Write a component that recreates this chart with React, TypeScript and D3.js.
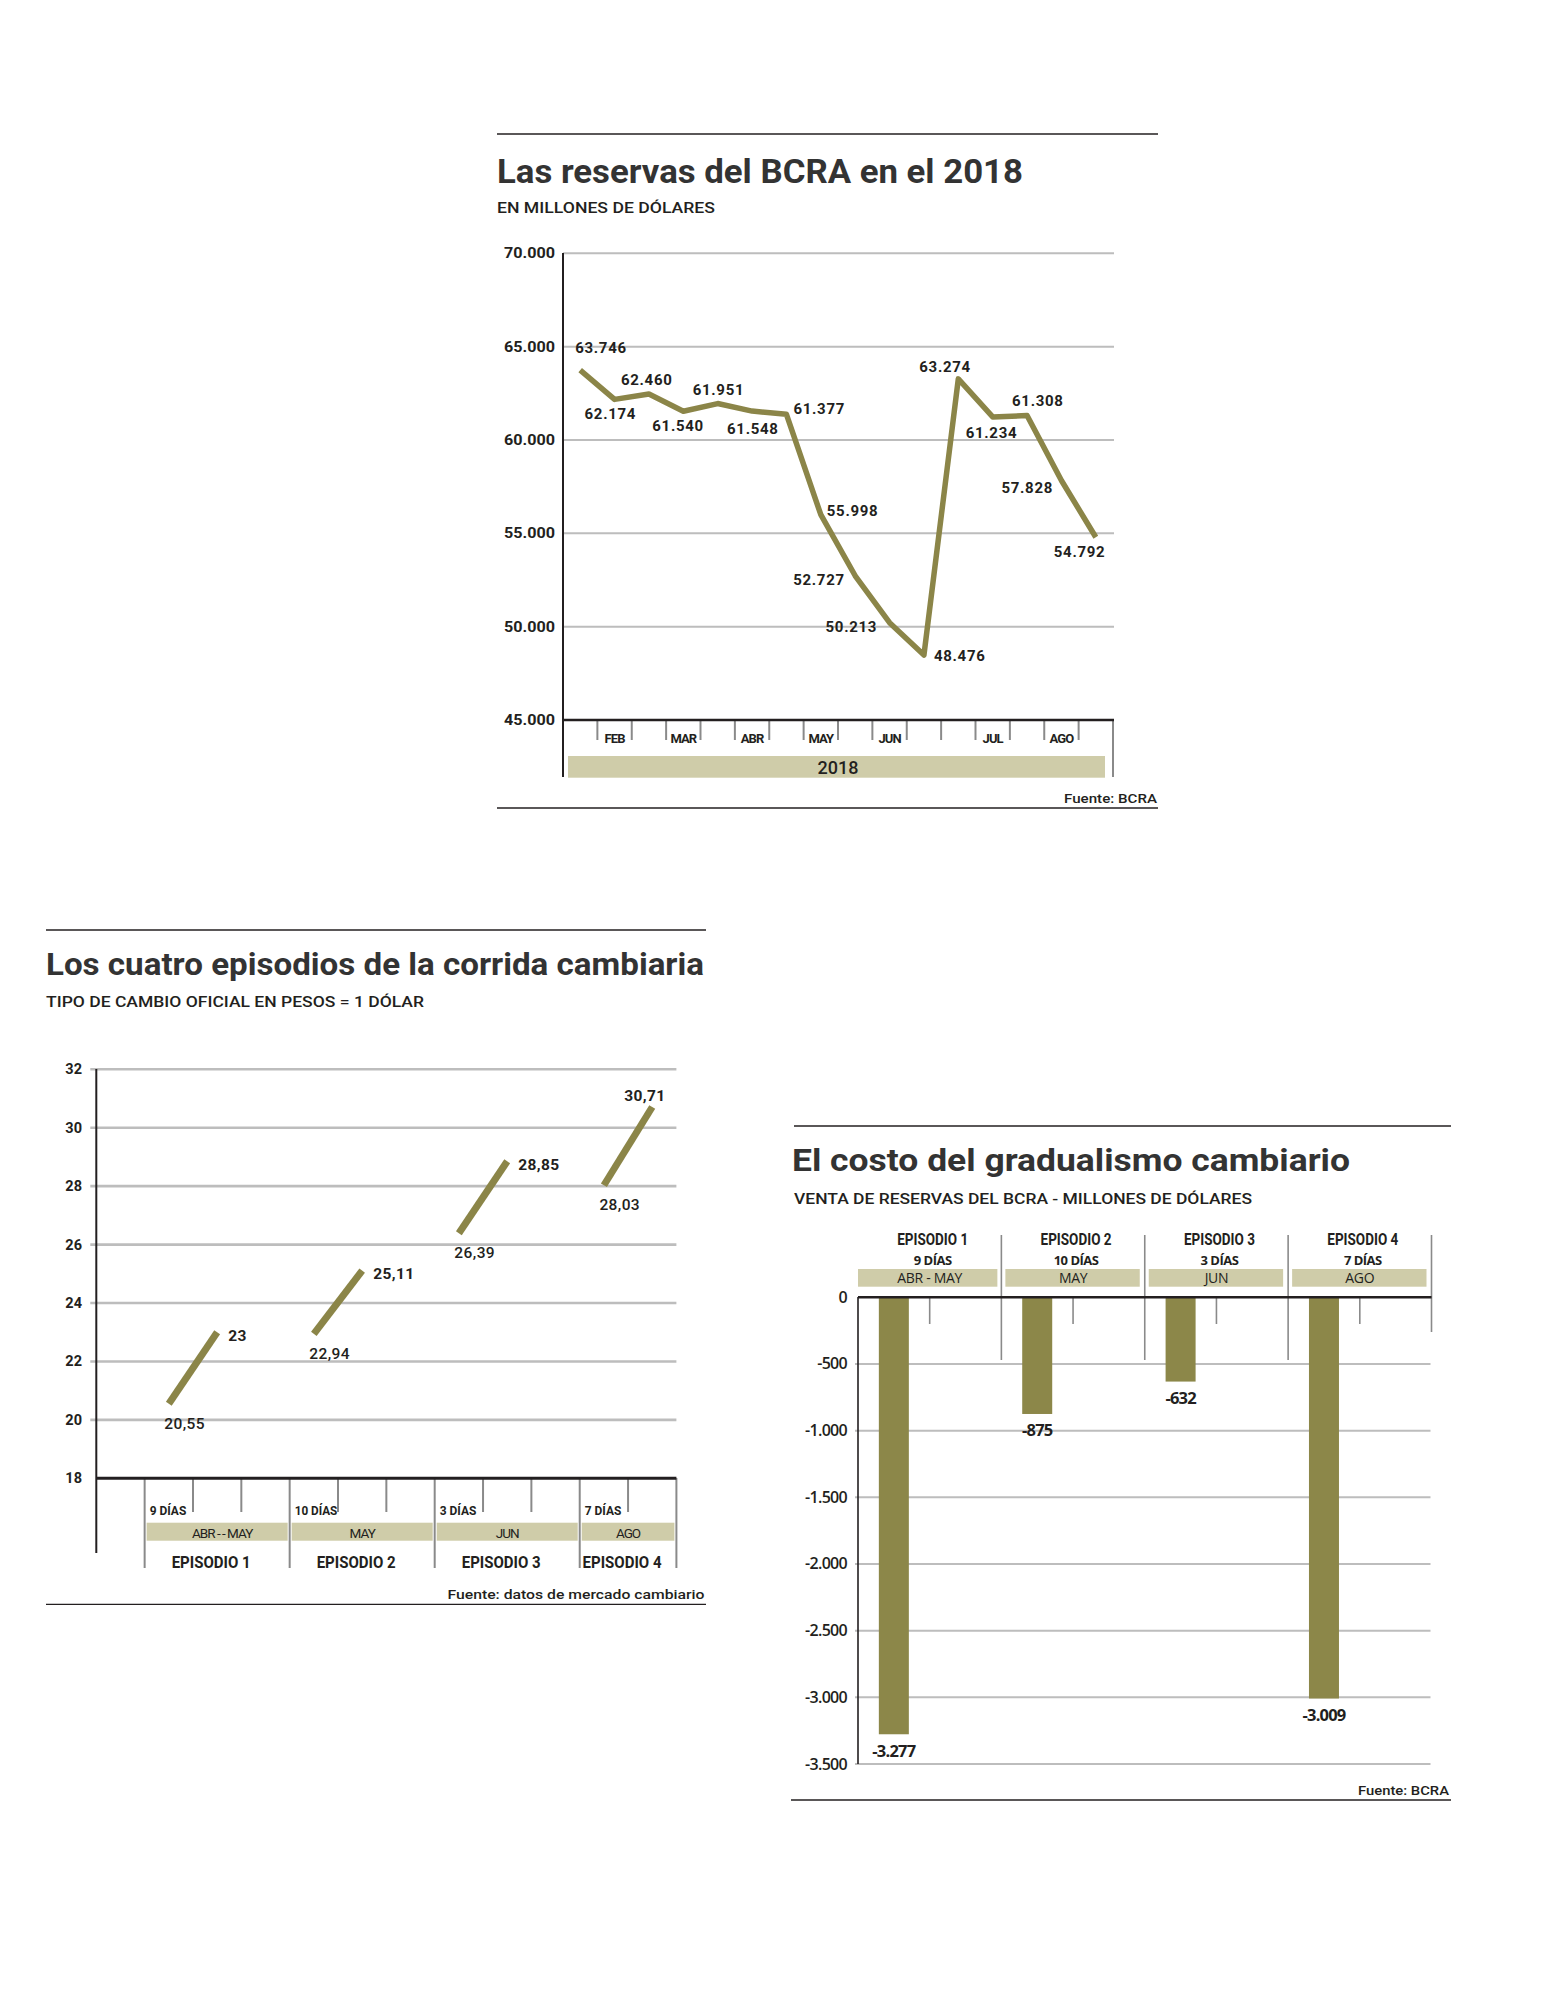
import React from "react";
import * as d3 from "d3";

// ---------- Chart 1: Las reservas del BCRA en el 2018 ----------
const reservesCategories = ["", "FEB", "", "MAR", "", "ABR", "", "MAY", "", "JUN", "", "", "JUL", "", "AGO", ""];
const reservesValues = [63746, 62174, 62460, 61540, 61951, 61548, 61377, 55998, 52727, 50213, 48476, 63274, 61234, 61308, 57828, 54792];
const reservesTicks = [45000, 50000, 55000, 60000, 65000, 70000];
const reservesYear = "2018";
// label placement (layout only): [dx from point to text start, dy baseline from point]
const reservesLabelOffsets: [number, number][] = [
  [-5, -17], [-30, 20], [-28, -9], [-31, 20], [-25, -9], [-25, 23], [7, 0], [6, 1],
  [-62, 9], [-64, 9], [10, 6], [-39, -7], [-27, 21], [-15, -10], [-60, 12], [-42, 20],
];

// ---------- Chart 2: Los cuatro episodios ----------
const episodeNames = ["EPISODIO 1", "EPISODIO 2", "EPISODIO 3", "EPISODIO 4"];
const episodeDays = ["9 DÍAS", "10 DÍAS", "3 DÍAS", "7 DÍAS"];
const episodeMonthsRate = ["ABR - - MAY", "MAY", "JUN", "AGO"];
const rateStart = [20.55, 22.94, 26.39, 28.03];
const rateEnd = [23, 25.11, 28.85, 30.71];
const rateTicks = [18, 20, 22, 24, 26, 28, 30, 32];

// ---------- Chart 3: El costo del gradualismo cambiario ----------
const episodeMonthsSales = ["ABR - MAY", "MAY", "JUN", "AGO"];
const salesValues = [-3277, -875, -632, -3009];
const salesTicks = [0, -500, -1000, -1500, -2000, -2500, -3000, -3500];

const locale = d3.formatLocale({ decimal: ",", thousands: ".", grouping: [3], currency: ["$", ""], minus: "-" });
const fmtInt = locale.format(",d");
const fmtRate = (v: number) => (Number.isInteger(v) ? locale.format("d")(v) : locale.format(".2f")(v));

const INK = "#231f20";
const TITLE = "#333333";
const OLIVE = "#8b8548";
const BAR = "#8c8749";
const BEIGE = "#cfcca9";
const GRID = "#bdbdbd";
const TICK = "#8a8a8a";
const SANS = "Roboto, 'Noto Sans', Arial, sans-serif";
const ALT = "'Open Sans', 'Noto Sans', sans-serif";

type TP = {
  x: number; y: number; size: number; weight?: number | string; anchor?: "start" | "middle" | "end";
  fill?: string; family?: string; len?: number; ls?: number; children: React.ReactNode;
};
function T({ x, y, size, weight = 400, anchor = "start", fill = INK, family = SANS, len, ls, children }: TP) {
  return (
    <text
      x={x}
      y={y}
      fontSize={size}
      fontWeight={weight}
      textAnchor={anchor}
      fill={fill}
      fontFamily={family}
      letterSpacing={ls}
      textLength={len}
      lengthAdjust={len ? "spacingAndGlyphs" : undefined}
    >
      {children}
    </text>
  );
}

function ReservesChart() {
  const x = d3.scaleBand<number>().domain(d3.range(reservesValues.length)).range([563, 1113]);
  const y = d3.scaleLinear().domain([45000, 70000]).range([720, 253.3]);
  const bw = x.bandwidth();
  const cx = (i: number) => (x(i) as number) + bw / 2;
  const line = d3.line<number>().x((_, i) => cx(i)).y((v) => y(v));
  const bounds = d3.range(1, reservesValues.length).map((i) => x(i) as number);
  const [x0, x1] = x.range();
  return (
    <g>
      <line x1={497} x2={1158} y1={134} y2={134} stroke={INK} strokeWidth={1.3} />
      <T x={497} y={183} size={33} weight={700} fill={TITLE} len={526}>Las reservas del BCRA en el 2018</T>
      <T x={497} y={213} size={14} weight={500} len={218}>EN MILLONES DE DÓLARES</T>
      {reservesTicks.filter((t) => t !== 45000).map((t) => (
        <line key={t} x1={x0} x2={x1 + 1} y1={y(t)} y2={y(t)} stroke={GRID} strokeWidth={2} />
      ))}
      {reservesTicks.map((t) => (
        <T key={t} x={555} y={y(t) + 5} size={14.5} weight={700} anchor="end" len={51}>{fmtInt(t)}</T>
      ))}
      {bounds.map((b, i) => (
        <line key={i} x1={b} x2={b} y1={720} y2={740} stroke={TICK} strokeWidth={2} />
      ))}
      <line x1={x1} x2={x1} y1={720} y2={777} stroke={TICK} strokeWidth={2} />
      <line x1={x0} x2={x0} y1={253} y2={777} stroke={INK} strokeWidth={2} />
      <line x1={x0} x2={x1 + 1} y1={720} y2={720} stroke={INK} strokeWidth={2.5} />
      <rect x={x0 + 5} y={756} width={x1 - x0 - 13} height={21.7} fill={BEIGE} />
      <T x={(x0 + x1) / 2} y={774} size={18} weight={500} anchor="middle">{reservesYear}</T>
      {reservesCategories.map((c, i) =>
        c ? (
          <T key={i} x={cx(i)} y={742.7} size={13} weight={700} anchor="middle" ls={-0.9}>{c}</T>
        ) : null
      )}
      <path d={line(reservesValues) || ""} fill="none" stroke={OLIVE} strokeWidth={5.5} strokeLinejoin="round" />
      {reservesValues.map((v, i) => (
        <T key={i} x={cx(i) + reservesLabelOffsets[i][0]} y={y(v) + reservesLabelOffsets[i][1]} size={15} weight={700} ls={0.7}>
          {fmtInt(v)}
        </T>
      ))}
      <T x={1157} y={802.7} size={13} weight={500} anchor="end" len={93}>Fuente: BCRA</T>
      <line x1={497} x2={1158} y1={808} y2={808} stroke={INK} strokeWidth={1.3} />
    </g>
  );
}

function RateChart() {
  const x = d3.scaleBand<number>().domain(d3.range(12)).range([96.3, 676.4]);
  const y = d3.scaleLinear().domain([18, 32]).range([1478.3, 1069.3]);
  const bw = x.bandwidth();
  const cx = (i: number) => (x(i) as number) + bw / 2;
  const [x0, x1] = x.range();
  const longB = [1, 4, 7, 10].map((i) => x(i) as number).concat([x1]);
  const shortB = [2, 3, 5, 6, 8, 9, 11].map((i) => x(i) as number);
  return (
    <g>
      <line x1={46} x2={706} y1={930} y2={930} stroke={INK} strokeWidth={1.3} />
      <T x={46} y={975} size={32} weight={700} fill={TITLE} len={658}>Los cuatro episodios de la corrida cambiaria</T>
      <T x={46} y={1007} size={14} weight={500} len={378}>TIPO DE CAMBIO OFICIAL EN PESOS = 1 DÓLAR</T>
      {rateTicks.filter((t) => t !== 18).map((t) => (
        <line key={t} x1={x0 - 6} x2={x1} y1={y(t)} y2={y(t)} stroke={GRID} strokeWidth={2.6} />
      ))}
      {rateTicks.map((t) => (
        <T key={t} x={82} y={y(t) + 5} size={14.5} weight={700} anchor="end">{t}</T>
      ))}
      {longB.map((b, i) => (
        <line key={i} x1={b} x2={b} y1={1478} y2={1568} stroke={TICK} strokeWidth={2} />
      ))}
      {shortB.map((b, i) => (
        <line key={i} x1={b} x2={b} y1={1478} y2={1512} stroke={TICK} strokeWidth={2} />
      ))}
      <line x1={x0} x2={x0} y1={1069} y2={1553} stroke={INK} strokeWidth={2} />
      <line x1={x0} x2={x1} y1={1478.3} y2={1478.3} stroke={INK} strokeWidth={3} />
      {episodeNames.map((name, i) => {
        const a = longB[i];
        const b = longB[i + 1];
        const s = 3 * i + 1;
        const e = 3 * i + 2;
        const last = i === episodeNames.length - 1;
        return (
          <g key={name}>
            <T x={a + 5} y={1515} size={13} weight={700} len={episodeDays[i].length * 6.1}>{episodeDays[i]}</T>
            <rect x={a + 2} y={1522.7} width={b - a - 4} height={18} fill={BEIGE} />
            <T x={(a + b) / 2 + (i === 0 ? 5 : 0)} y={1538} size={13.5} anchor="middle" ls={-1}>{episodeMonthsRate[i]}</T>
            <T x={(a + b) / 2 - 6} y={1568} size={16} weight={700} anchor="middle" len={79}>{name}</T>
            <line x1={cx(s)} x2={cx(e)} y1={y(rateStart[i])} y2={y(rateEnd[i])} stroke={OLIVE} strokeWidth={7} />
            <T x={cx(s) - 4.5} y={y(rateStart[i]) + 25} size={15.5} weight={500} ls={0.4}>{fmtRate(rateStart[i])}</T>
            <T x={cx(e) + (last ? -28 : 11)} y={y(rateEnd[i]) + (last ? -6 : 8.5)} size={15.5} weight={700} ls={0.4}>
              {fmtRate(rateEnd[i])}
            </T>
          </g>
        );
      })}
      <T x={704.5} y={1599.3} size={13} weight={500} anchor="end" len={257}>Fuente: datos de mercado cambiario</T>
      <line x1={46} x2={706} y1={1604.3} y2={1604.3} stroke={INK} strokeWidth={1.3} />
    </g>
  );
}

function SalesChart() {
  const x = d3.scaleBand<number>().domain(d3.range(salesValues.length)).range([858, 1431.5]);
  const y = d3.scaleLinear().domain([-3500, 0]).range([1764, 1297.3]);
  const bw = x.bandwidth();
  const [x0, x1] = x.range();
  const barW = 30;
  return (
    <g>
      <line x1={794} x2={1451} y1={1126} y2={1126} stroke={INK} strokeWidth={1.3} />
      <T x={792} y={1171} size={32} weight={700} fill={TITLE} len={558}>El costo del gradualismo cambiario</T>
      <T x={794} y={1204.3} size={14} weight={500} len={458}>VENTA DE RESERVAS DEL BCRA - MILLONES DE DÓLARES</T>
      {salesTicks.filter((t) => t !== 0).map((t) => (
        <line key={t} x1={x0 - 3} x2={x1 - 1} y1={y(t)} y2={y(t)} stroke={GRID} strokeWidth={2} />
      ))}
      {salesTicks.map((t) => (
        <T key={t} x={847} y={y(t) + 5.5} size={16} weight={600} anchor="end" family={ALT} ls={-0.7}>{fmtInt(t)}</T>
      ))}
      {[1, 2, 3].map((i) => (
        <line key={i} x1={x(i)} x2={x(i)} y1={1235} y2={1360} stroke={TICK} strokeWidth={1.6} />
      ))}
      <line x1={x1} x2={x1} y1={1235} y2={1332} stroke={TICK} strokeWidth={1.6} />
      {salesValues.map((_, i) => (
        <line key={i} x1={(x(i) as number) + bw / 2} x2={(x(i) as number) + bw / 2} y1={1297} y2={1324} stroke={TICK} strokeWidth={1.6} />
      ))}
      <line x1={x0} x2={x0} y1={1297} y2={1764} stroke={INK} strokeWidth={1.6} />
      {salesValues.map((v, i) => {
        const c = (x(i) as number) + bw / 4;
        return (
          <g key={i}>
            <rect x={c - barW / 2} y={y(0)} width={barW} height={y(v) - y(0)} fill={BAR} />
            <T x={c} y={y(v) + 22.5} size={16.5} weight={700} anchor="middle" family={ALT} ls={-0.8}>{fmtInt(v)}</T>
          </g>
        );
      })}
      <line x1={x0} x2={x1} y1={y(0)} y2={y(0)} stroke={INK} strokeWidth={2.5} />
      {episodeNames.map((name, i) => {
        const a = x(i) as number;
        return (
          <g key={name}>
            <T x={a + bw / 2 + 3} y={1245} size={16} weight={700} anchor="middle" len={71}>{name}</T>
            <T x={a + bw / 2 + 3} y={1265} size={13} weight={700} anchor="middle" family={ALT} ls={-0.5}>{episodeDays[i]}</T>
            <rect x={i === 0 ? a : a + 4} y={1269} width={i === 0 ? bw - 4 : bw - 9} height={17.7} fill={BEIGE} />
            <T x={a + bw / 2} y={1282.5} size={14} weight={500} anchor="middle" family={ALT} ls={-0.3}>{episodeMonthsSales[i]}</T>
          </g>
        );
      })}
      <T x={1449} y={1795} size={13} weight={500} anchor="end" len={91}>Fuente: BCRA</T>
      <line x1={791} x2={1451} y1={1800} y2={1800} stroke={INK} strokeWidth={1.3} />
    </g>
  );
}

export default function App() {
  return (
    <svg
      width={1568}
      height={2000}
      viewBox="0 0 1568 2000"
      style={{ position: "absolute", left: 0, top: 0, background: "#fff" }}
    >
      <rect x={0} y={0} width={1568} height={2000} fill="#fff" />
      <ReservesChart />
      <RateChart />
      <SalesChart />
    </svg>
  );
}
